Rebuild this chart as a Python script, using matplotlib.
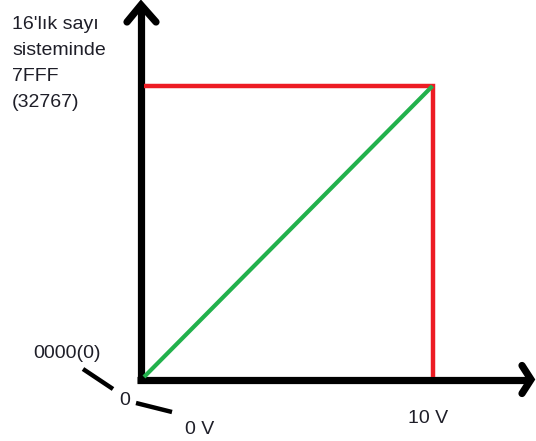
import matplotlib
matplotlib.use("Agg")
import matplotlib.pyplot as plt
from matplotlib.transforms import Affine2D

# Voltage range and the matching 16-bit counts
volts = [0, 10]
counts = [0, 32767]

# Labels
y_top_label = ["16'lık sayı", "sisteminde", "7FFF", "(32767)"]
y_zero_label = "0000(0)"
origin_label = "0"
x_labels = ["0 V", "10 V"]

W, H = 536, 441
fig = plt.figure(figsize=(W / 100, H / 100), dpi=100)
ax = fig.add_axes([0, 0, 1, 1])
ax.set_axis_off()

# origin sits at pixel (144, 377); 10 V at x=432.5, 32767 at y=86
px_per_v = (432.5 - 144) / (volts[1] - volts[0])
cnt_per_px = (counts[1] - counts[0]) / (377 - 86)
ax.set_xlim(-144 / px_per_v, (W - 144) / px_per_v)
ax.set_ylim(-(H - 377) * cnt_per_px, 377 * cnt_per_px)

dx = 1 / px_per_v      # one pixel in volts
dy = cnt_per_px        # one pixel in counts

# pixel coordinates (top-left origin) for annotations
pix = Affine2D().scale(1, -1).translate(0, H)

black_lw = 5.2
# vertical axis with open arrowhead
vx = -3 * dx
vtop = 372 * dy
ax.plot([vx, vx], [-6 * dy, vtop], color="black", lw=black_lw, solid_capstyle="butt")
ax.plot([vx - 14 * dx, vx, vx + 15 * dx], [vtop - 17 * dy, vtop, vtop - 17 * dy],
        color="black", lw=black_lw, solid_capstyle="round", solid_joinstyle="miter")
# horizontal axis with open arrowhead
hy = -2.5 * dy
hend = (531 - 144) * dx
ax.plot([-7 * dx, hend], [hy, hy], color="black", lw=black_lw, solid_capstyle="butt")
ax.plot([hend - 9 * dx, hend, hend - 9 * dx], [hy + 14 * dy, hy, hy - 14 * dy],
        color="black", lw=black_lw, solid_capstyle="round", solid_joinstyle="miter")

# red limits
red = "#ed1c24"
ax.plot([volts[0], volts[1], volts[1]], [counts[1], counts[1], counts[0]],
        color=red, lw=3.2, solid_capstyle="butt", solid_joinstyle="miter")

# green transfer line
ax.plot(volts, counts, color="#22b14c", lw=3.0, solid_capstyle="butt")

# text
tc = "#1e1e28"
fs = 14
fam = ["Liberation Sans", "DejaVu Sans"]
for i, line in enumerate(y_top_label):
    ax.text(12, 29 + i * 26, line, transform=pix, fontsize=fs, color=tc,
            family=fam, va="baseline", ha="left")
ax.text(33, 358, y_zero_label, transform=pix, fontsize=fs, color=tc,
        family=fam, va="baseline", ha="left")
ax.text(119, 405, origin_label, transform=pix, fontsize=fs, color=tc,
        family=fam, va="baseline", ha="left")
ax.text(185, 434, x_labels[0], transform=pix, fontsize=fs, color=tc,
        family=fam, va="baseline", ha="left")
ax.text(408, 423, x_labels[1], transform=pix, fontsize=fs, color=tc,
        family=fam, va="baseline", ha="left")

# leader strokes
ax.plot([83, 113], [369, 389], transform=pix, color="black", lw=3.2, solid_capstyle="butt")
ax.plot([136, 172], [403, 412], transform=pix, color="black", lw=3.2, solid_capstyle="butt")

fig.savefig("out.png", dpi=100, facecolor="white")
